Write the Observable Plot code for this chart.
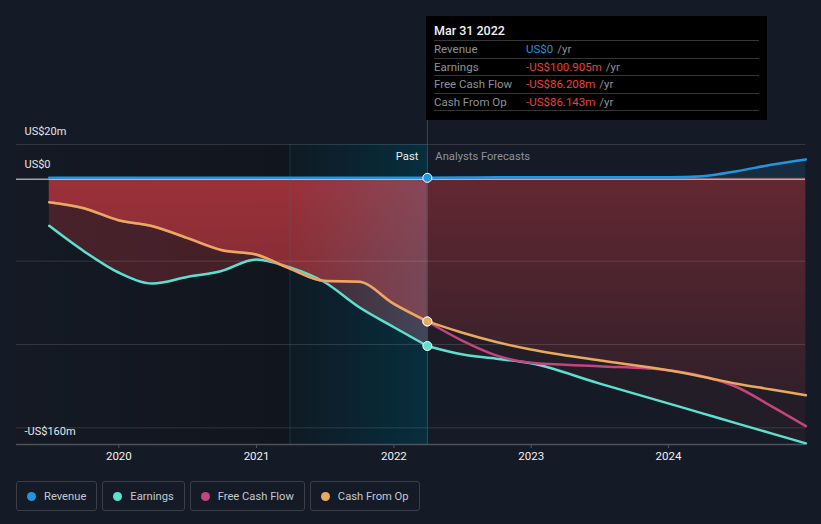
<!DOCTYPE html>
<html>
<head>
<meta charset="utf-8">
<script src="https://cdn.jsdelivr.net/npm/d3@7"></script>
<script src="https://cdn.jsdelivr.net/npm/@observablehq/plot@0.6"></script>
<style>
  body { margin: 0; background: #151b26; font-family: Roboto, "Noto Sans", sans-serif; }
  #wrap { position: relative; width: 821px; height: 524px; overflow: hidden; background: #151b26; }
  #chart { position: absolute; left: 0; top: 0; }
  #tip { position: absolute; left: 426px; top: 16px; width: 341px; height: 104px; background: #000; box-sizing: border-box; padding: 0 8px; }
  #tip .tt { height: 25px; line-height: 30px; color: #f2f2f2; font-size: 12.5px; font-weight: 500; border-bottom: 1px solid #353535; box-sizing: border-box; }
  #tip .row { height: 17.5px; display: flex; align-items: center; font-size: 11.5px; border-bottom: 1px solid #353535; box-sizing: border-box; }
  #tip .lab { width: 92px; color: #8d9299; }
  #tip .yr { color: #8d9299; margin-left: 4px; }
  #legend { position: absolute; left: 16px; top: 481px; display: flex; gap: 5px; }
  .item { height: 30px; box-sizing: border-box; border: 1px solid #393e48; border-radius: 3px; padding: 0 10px 0 10px; display: flex; align-items: center; font-size: 11.2px; color: #c3c7cd; }
  .dot { width: 9px; height: 9px; border-radius: 50%; margin-right: 8px; }
  [aria-label="x-axis tick"] { stroke: #4d525b; }
  [aria-label="x-axis tick"] path { stroke: #4d525b; }
</style>
</head>
<body>
<div id="wrap">
  <div id="chart"></div>
  <div id="tip"></div>
  <div id="legend"></div>
</div>
<script>
// ---------- data (US$ m) ----------
const seriesNames = ["Revenue", "Earnings", "Free Cash Flow", "Cash From Op"];
const seriesColors = ["#2394df", "#5ce1d1", "#c4447f", "#e8aa5c"];

const pastDates    = ["2019-06-30","2019-09-30","2019-12-31","2020-03-31","2020-06-30","2020-09-30","2020-12-31","2021-03-31","2021-06-30","2021-09-30","2021-12-31","2022-03-31"];
const pastRevenue  = [0, 0, 0, 0, 0, 0, 0, 0, 0, 0, 0, 0];
const pastEarnings = [-28.8, -44, -56.8, -63.4, -59.5, -55.9, -49, -53.8, -62.5, -77.5, -89.5, -100.905];
const pastFCF      = [-14.7, -18.3, -25.5, -29.1, -36.1, -43.4, -46.1, -54.6, -61.9, -62.4, -75.6, -86.208];
const pastCFO      = [-14.6, -18.2, -25.4, -29, -36, -43.3, -46, -54.5, -61.8, -62.3, -75.5, -86.143];

const fcDates    = ["2022-03-31","2022-06-30","2022-09-30","2022-12-31","2023-06-30","2023-12-31","2024-03-31","2024-06-30","2024-09-30","2024-12-31"];
const fcRevenue  = [0, 0.2, 0.3, 0.3, 0.3, 0.3, 1, 4, 7.8, 11];
const fcEarnings = [-100.905, -105.9, -108.5, -111.3, -123.3, -135.3, -141.3, -147.3, -153.3, -159.3];
const fcFCF      = [-86.208, -97.5, -106.5, -111, -113, -115.5, -119, -125.5, -137, -149];
const fcCFO      = [-86.143, -92.8, -98.5, -103, -109.5, -115.5, -119.3, -123.5, -127, -130.5];

const xDomain     = ["2019-04-04", "2024-12-30"];
const yearTicks   = ["2020", "2021", "2022", "2023", "2024"];
const yDomain     = [-160, 20];
const gridValues  = [20, -50, -100, -150];
const yLabelValues = [20, 0, -160];
const bandStart   = "2021-03-31";
const presentDate = "2022-03-31";

const tipTitle  = "Mar 31 2022";
const tipValues = ["US$0", "-US$100.905m", "-US$86.208m", "-US$86.143m"];
const tipColors = ["#2394df", "#e8403f", "#e8403f", "#e8403f"];

// ---------- build tables ----------
const P = d3.utcParse("%Y-%m-%d");
const pastRows = pastDates.map((d, i) => ({date: P(d), revenue: pastRevenue[i], earnings: pastEarnings[i], fcf: pastFCF[i], cfo: pastCFO[i]}));
const fcRows = fcDates.map((d, i) => ({date: P(d), revenue: fcRevenue[i], earnings: fcEarnings[i], fcf: fcFCF[i], cfo: fcCFO[i]}));
const present = P(presentDate), band0 = P(bandStart);
const xd = xDomain.map(P);
const ticks = yearTicks.map(y => P(y + "-01-01"));
const presentRow = pastRows[pastRows.length - 1];
const fmtY = d => d === 0 ? "US$0" : (d < 0 ? "-US$" + Math.abs(d) + "m" : "US$" + d + "m");
const keys = ["revenue", "earnings", "fcf", "cfo"];

const C = "#a3323a";
const marks = [
  Plot.rect([{a: xd[0], b: present}], {x1: "a", x2: "b", y1: yDomain[0], y2: yDomain[1], fill: "url(#pastShade)"}),
  Plot.rect([{a: band0, b: present}], {x1: "a", x2: "b", y1: yDomain[0], y2: yDomain[1], fill: "url(#bandGrad)"}),
  Plot.areaY(fcRows, {x: "date", y1: 0, y2: "revenue", fill: seriesColors[0], fillOpacity: 0.14, curve: "monotone-x"}),
  Plot.areaY(pastRows, {x: "date", y1: 0, y2: "cfo", fill: "url(#pastRed)", curve: "monotone-x"}),
  Plot.areaY(pastRows, {x: "date", y1: "cfo", y2: "earnings", fill: C, fillOpacity: 0.36, curve: "monotone-x"}),
  Plot.areaY(fcRows, {x: "date", y1: 0, y2: "cfo", fill: "url(#fcRed)", curve: "monotone-x"}),
  Plot.areaY(fcRows, {x: "date", y1: "cfo", y2: "earnings", fill: C, fillOpacity: 0.1, curve: "monotone-x"}),
  Plot.areaY(pastRows, {x: "date", y1: 0, y2: "earnings", fill: "url(#bandLight)", curve: "monotone-x"}),
  Plot.ruleY(gridValues, {stroke: "#ffffff", strokeOpacity: 0.13}),
  Plot.ruleY([0], {stroke: "#ffffff", strokeOpacity: 0.6, strokeWidth: 1.5, dy: 1.5}),
  Plot.ruleX([band0], {y1: yDomain[0], y2: yDomain[1], stroke: "#2a7a8c", strokeOpacity: 0.3}),
  Plot.ruleX([present], {y1: yDomain[0], y2: 35, stroke: "#2a7a8c", strokeOpacity: 0.6}),
  Plot.ruleY([yDomain[0]], {stroke: "#4d525b", strokeWidth: 1.5})
];
keys.forEach((k, i) => {
  marks.push(Plot.lineY(pastRows, {x: "date", y: k, stroke: seriesColors[i], strokeWidth: 2.5, curve: "monotone-x"}));
  marks.push(Plot.lineY(fcRows, {x: "date", y: k, stroke: seriesColors[i], strokeWidth: 2.5, curve: "monotone-x"}));
});
keys.forEach((k, i) => {
  marks.push(Plot.dot([presentRow], {x: "date", y: k, r: 4.5, fill: seriesColors[i], stroke: "#ffffff", strokeWidth: 1}));
});
marks.push(
  Plot.text(yLabelValues, {x: () => xd[0], y: d => d, text: fmtY, dx: 8, dy: -13, textAnchor: "start", fill: "#e6e6e6", fontSize: 11}),
  Plot.text(["Past"], {x: () => present, y: () => yDomain[1], text: d => d, dx: -9, dy: 12, textAnchor: "end", fill: "#eaeaea", fontSize: 11.2}),
  Plot.text(["Analysts Forecasts"], {x: () => present, y: () => yDomain[1], text: d => d, dx: 8, dy: 12, textAnchor: "start", fill: "#8d929a", fontSize: 11.2})
);

const chart = Plot.plot({
  width: 821,
  height: 470,
  marginLeft: 16,
  marginRight: 16,
  marginTop: 144,
  marginBottom: 26,
  style: {background: "transparent", color: "#f0f0f0", fontFamily: "Roboto, sans-serif", fontSize: "11.5px", overflow: "visible"},
  x: {type: "utc", domain: xd, ticks: ticks, tickFormat: "%Y", tickSize: 4, tickPadding: 3, label: null},
  y: {domain: yDomain, axis: null},
  marks
});

// gradients
const xs = chart.scale("x"), ys = chart.scale("y");
const X = d => xs.apply(d), Y = v => ys.apply(v);
const defs = document.createElementNS("http://www.w3.org/2000/svg", "defs");
defs.innerHTML = `
<linearGradient id="pastShade" gradientUnits="userSpaceOnUse" x1="${X(xd[0])}" x2="${X(present)}" y1="0" y2="0">
  <stop offset="0" stop-color="#000" stop-opacity="0.06"/><stop offset="1" stop-color="#000" stop-opacity="0.3"/>
</linearGradient>
<linearGradient id="bandGrad" gradientUnits="userSpaceOnUse" x1="${X(band0)}" x2="${X(present)}" y1="0" y2="0">
  <stop offset="0" stop-color="rgb(4,58,78)" stop-opacity="0.12"/><stop offset="1" stop-color="rgb(4,58,78)" stop-opacity="0.7"/>
</linearGradient>
<linearGradient id="bandLight" gradientUnits="userSpaceOnUse" x1="${X(band0)}" x2="${X(present)}" y1="0" y2="0">
  <stop offset="0" stop-color="rgb(80,135,170)" stop-opacity="0"/><stop offset="1" stop-color="rgb(80,135,170)" stop-opacity="0.26"/>
</linearGradient>
<linearGradient id="pastRed" gradientUnits="userSpaceOnUse" x1="0" x2="0" y1="${Y(0)}" y2="${Y(-60)}">
  <stop offset="0" stop-color="${C}" stop-opacity="0.95"/><stop offset="1" stop-color="${C}" stop-opacity="0.8"/>
</linearGradient>
<linearGradient id="fcRed" gradientUnits="userSpaceOnUse" x1="0" x2="0" y1="${Y(0)}" y2="${Y(-130)}">
  <stop offset="0" stop-color="${C}" stop-opacity="0.55"/><stop offset="1" stop-color="${C}" stop-opacity="0.2"/>
</linearGradient>`;
chart.insertBefore(defs, chart.firstChild);
document.getElementById("chart").appendChild(chart);

// tooltip
const tip = document.getElementById("tip");
tip.innerHTML = `<div class="tt">${tipTitle}</div>` + seriesNames.map((n, i) =>
  `<div class="row"><span class="lab">${n}</span><span style="color:${tipColors[i]}">${tipValues[i]}</span><span class="yr">/yr</span></div>`).join("");

// legend
document.getElementById("legend").innerHTML = seriesNames.map((n, i) =>
  `<div class="item"><span class="dot" style="background:${seriesColors[i]}"></span>${n}</div>`).join("");
</script>
</body>
</html>
